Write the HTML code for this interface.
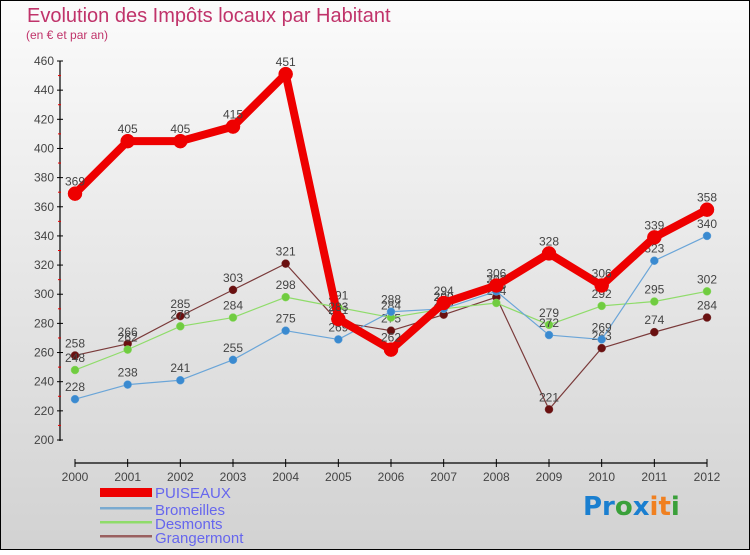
<!DOCTYPE html>
<html><head><meta charset="utf-8"><style>
body{margin:0;width:750px;height:550px;overflow:hidden;font-family:"Liberation Sans",sans-serif}
</style></head><body>
<svg width="750" height="550" xmlns="http://www.w3.org/2000/svg">
<defs><linearGradient id="bg" x1="0" y1="0" x2="0" y2="1"><stop offset="0" stop-color="#fbfbfb"/><stop offset="1" stop-color="#d2d2d2"/></linearGradient></defs>
<rect x="0.5" y="0.5" width="749" height="549" fill="url(#bg)" stroke="#000"/>
<text x="27" y="22" font-size="20" fill="#c0336a">Evolution des Impôts locaux par Habitant</text>
<text x="26" y="39" font-size="12" fill="#c0336a">(en € et par an)</text>
<g id="axes"></g><g id="series"></g>
<g font-size="15" fill="#6666ee">
<rect x="100" y="488" width="52" height="9" fill="#e00"/>
<text x="155" y="498">PUISEAUX</text>
<rect x="100" y="507" width="52" height="2.5" fill="#7aaad0"/>
<text x="155" y="515">Bromeilles</text>
<rect x="100" y="521" width="52" height="2.5" fill="#8fdc6a"/>
<text x="155" y="529">Desmonts</text>
<rect x="100" y="535" width="52" height="2.5" fill="#9a6060"/>
<text x="155" y="543">Grangermont</text>
</g>
<g font-size="26" font-weight="bold" font-family="'DejaVu Sans',sans-serif">
<text x="583" y="515"><tspan fill="#1a7fd0">Pr</tspan><tspan fill="#3aa03a">o</tspan><tspan fill="#1a7fd0">x</tspan><tspan fill="#f08020">it</tspan><tspan fill="#3aa03a">i</tspan></text>
</g>
</svg>
<script>
const years=[2000,2001,2002,2003,2004,2005,2006,2007,2008,2009,2010,2011,2012];
const puiseaux=[369,405,405,415,451,283,262,294,306,328,306,339,358];
const bromeilles=[228,238,241,255,275,269,288,290,302,272,269,323,340];
const desmonts=[248,262,278,284,298,291,284,290,294,279,292,295,302];
const grangermont=[258,266,285,303,321,281,275,286,298,221,263,274,284];
const yTicks=[200,220,240,260,280,300,320,340,360,380,400,420,440,460];
const NS="http://www.w3.org/2000/svg";
const x=i=>75+i*(707-75)/12;
const y=v=>440-(v-200)*(440-61)/260;
function mk(tag,attrs,parent){const e=document.createElementNS(NS,tag);for(const k in attrs)e.setAttribute(k,attrs[k]);parent.appendChild(e);return e;}
const ax=document.getElementById('axes');
let a=mk('line',{x1:60,y1:61,x2:60,y2:441,stroke:'#000','stroke-width':1.2},ax);


yTicks.forEach(t=>{
 mk('line',{x1:57,y1:y(t),x2:63,y2:y(t),stroke:'#000'},ax);
 if(t<460) mk('line',{x1:58,y1:y(t+10),x2:61,y2:y(t+10),stroke:'#e00'},ax);
 const tx=mk('text',{x:54,y:y(t)+4,'font-size':12,fill:'#444','text-anchor':'end'},ax);
 tx.textContent=t;
 
 
});
a=mk('line',{x1:75,y1:463,x2:707,y2:463,stroke:'#000','stroke-width':1.2},ax);


years.forEach((yr,i)=>{
 mk('line',{x1:x(i),y1:459,x2:x(i),y2:467,stroke:'#000'},ax);
 const tx=mk('text',{x:x(i),y:481,'font-size':12,fill:'#444','text-anchor':'middle'},ax);
 tx.textContent=yr;
 
 
});
const sg=document.getElementById('series');
function draw(vals,name,color,dot,w,r){
 const g=mk('g',{},sg);
 
 
 const p=mk('polyline',{points:vals.map((v,i)=>x(i)+','+y(v)).join(' '),fill:'none',stroke:color,'stroke-width':w,'stroke-linejoin':'round'},g);
 
 
 vals.forEach((v,i)=>{
  const c=mk('circle',{cx:x(i),cy:y(v),r:r,fill:dot,stroke:color,'stroke-width':0.5},g);
  
  
  const t=mk('text',{x:x(i),y:y(v)-8,'font-size':12,fill:'#444','text-anchor':'middle'},g);
  t.textContent=v;
  
  
 });
}
draw(grangermont,'grangermont','#7a3a3a','#6a1010',1.2,4);
draw(desmonts,'desmonts','#8fdc6a','#70cc40',1.2,4);
draw(bromeilles,'bromeilles','#6aa5d8','#3a8ad0',1.2,4);
draw(puiseaux,'puiseaux','#ee0000','#ee0000',8,7);
</script>
</body></html>
